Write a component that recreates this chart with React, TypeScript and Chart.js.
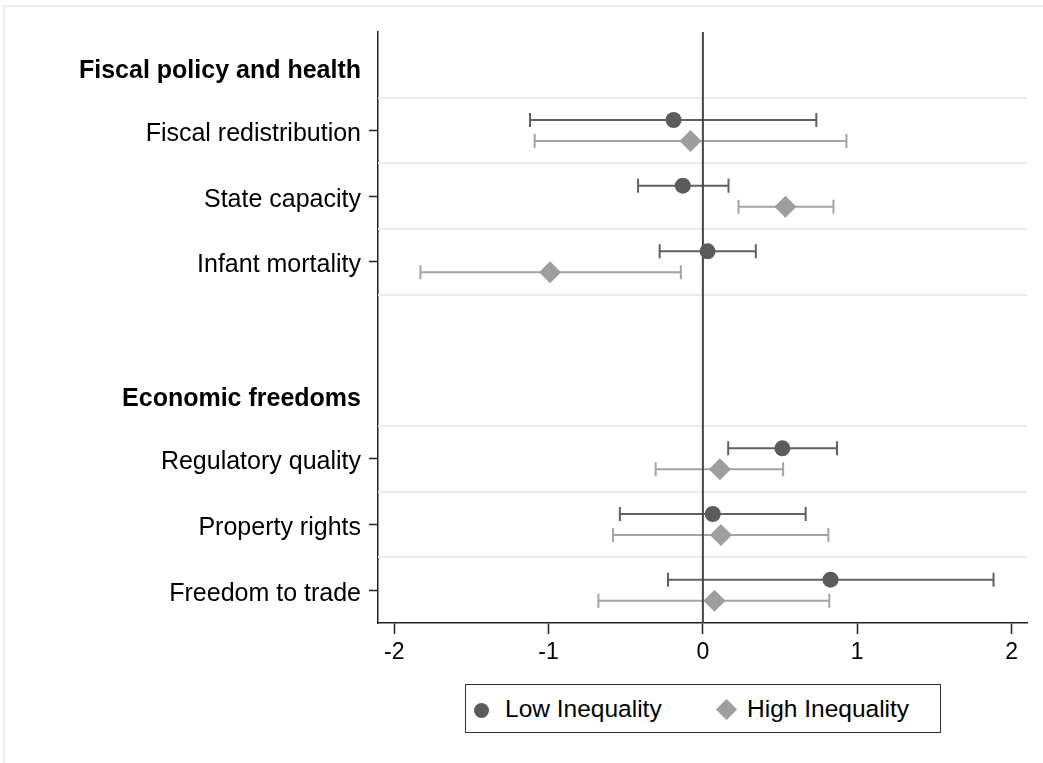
import React, { useEffect, useRef } from "react";
import { Chart, registerables } from "chart.js";

Chart.register(...registerables);

// ---- Data ----
const rowLabels = [
  "Fiscal policy and health",
  "Fiscal redistribution",
  "State capacity",
  "Infant mortality",
  "",
  "Economic freedoms",
  "Regulatory quality",
  "Property rights",
  "Freedom to trade",
];
const headerRows = [0, 5];
const itemRows = [1, 2, 3, 6, 7, 8];
const separatorRows = [0.5, 1.5, 2.5, 3.5, 5.5, 6.5, 7.5];

const lowEst = [-0.19, -0.13, 0.03, 0.515, 0.064, 0.827];
const lowLo = [-1.12, -0.42, -0.28, 0.164, -0.538, -0.226];
const lowHi = [0.735, 0.166, 0.343, 0.869, 0.666, 1.883];

const highEst = [-0.08, 0.535, -0.99, 0.11, 0.117, 0.075];
const highLo = [-1.09, 0.231, -1.83, -0.306, -0.582, -0.677];
const highHi = [0.93, 0.846, -0.143, 0.52, 0.813, 0.819];

const xTicks = [-2, -1, 0, 1, 2];

const FONT = "'Liberation Sans', Arial, Helvetica, sans-serif";
const LOW_COLOR = "#5b5b5b";
const HIGH_COLOR = "#9e9e9e";

const errorBarPlugin = {
  id: "errorBars",
  beforeDatasetsDraw(chart: any) {
    const { ctx, chartArea, scales } = chart;
    const xs = scales.x;
    const ys = scales.y;
    ctx.save();
    // separators
    ctx.strokeStyle = "#ebebeb";
    ctx.lineWidth = 2;
    separatorRows.forEach((r) => {
      const y = Math.round(ys.getPixelForValue(r));
      ctx.beginPath();
      ctx.moveTo(chartArea.left, y);
      ctx.lineTo(chartArea.right, y);
      ctx.stroke();
    });
    // error bars
    chart.data.datasets.forEach((ds: any) => {
      ctx.strokeStyle = ds.errorColor;
      ctx.lineWidth = 2;
      ds.data.forEach((d: any) => {
        const y = ys.getPixelForValue(d.y);
        const x1 = xs.getPixelForValue(d.lo);
        const x2 = xs.getPixelForValue(d.hi);
        ctx.beginPath();
        ctx.moveTo(x1, y);
        ctx.lineTo(x2, y);
        ctx.moveTo(x1, y - 7);
        ctx.lineTo(x1, y + 7);
        ctx.moveTo(x2, y - 7);
        ctx.lineTo(x2, y + 7);
        ctx.stroke();
      });
    });
    // zero line
    const x0 = xs.getPixelForValue(0);
    ctx.strokeStyle = "#444444";
    ctx.lineWidth = 2;
    ctx.beginPath();
    ctx.moveTo(x0, chartArea.top);
    ctx.lineTo(x0, chartArea.bottom);
    ctx.stroke();
    ctx.restore();
  },
};

export default function App() {
  const ref = useRef<HTMLCanvasElement>(null);

  useEffect(() => {
    document.body.style.margin = "0";
    const canvas = ref.current;
    if (!canvas) return;
    const chart = new Chart(canvas, {
      type: "scatter",
      data: {
        datasets: [
          {
            label: "Low Inequality",
            data: itemRows.map((r, i) => ({ x: lowEst[i], y: r - 0.16, lo: lowLo[i], hi: lowHi[i] })),
            backgroundColor: LOW_COLOR,
            borderColor: LOW_COLOR,
            pointStyle: "circle",
            pointRadius: 8,
            pointBorderWidth: 0,
            errorColor: "#606060",
          } as any,
          {
            label: "High Inequality",
            data: itemRows.map((r, i) => ({ x: highEst[i], y: r + 0.16, lo: highLo[i], hi: highHi[i] })),
            backgroundColor: HIGH_COLOR,
            borderColor: HIGH_COLOR,
            pointStyle: "rectRot",
            pointRadius: 11,
            pointBorderWidth: 0,
            errorColor: "#a4a4a4",
          } as any,
        ],
      },
      options: {
        responsive: false,
        animation: false,
        layout: { padding: { left: 0, top: 32, right: 16, bottom: 90 } },
        plugins: {
          legend: { display: false },
          tooltip: { enabled: false },
        },
        scales: {
          x: {
            type: "linear",
            min: -2.105,
            max: 2.1,
            afterBuildTicks: (scale: any) => {
              scale.ticks = xTicks.map((v) => ({ value: v }));
            },
            afterFit: (scale: any) => {
              scale.height = 50;
            },
            ticks: {
              color: "#000",
              font: { family: FONT, size: 23 },
              padding: 5,
              maxRotation: 0,
            },
            grid: {
              drawOnChartArea: false,
              drawTicks: true,
              tickLength: 11,
              tickColor: "#222",
              tickWidth: 1.5,
            },
            border: { display: true, color: "#222", width: 1.5 },
          },
          y: {
            type: "linear",
            reverse: true,
            min: -0.5,
            max: 8.5,
            afterBuildTicks: (scale: any) => {
              scale.ticks = rowLabels.map((_, i) => ({
                value: headerRows.includes(i) ? i + 0.04 : i,
              }));
            },
            afterFit: (scale: any) => {
              scale.width = 378;
            },
            ticks: {
              color: "#000",
              padding: 8,
              autoSkip: false,
              labelOffset: 3.5,
              callback: (_v: any, index: number) => rowLabels[index] ?? "",
              font: (ctx: any) => ({
                family: FONT,
                size: 25,
                weight: headerRows.includes(ctx.index) ? "bold" : "normal",
              }),
            },
            grid: {
              drawOnChartArea: false,
              drawTicks: true,
              tickLength: 9,
              tickWidth: 1.5,
              tickColor: (ctx: any) =>
                itemRows.includes(ctx.index) ? "#222" : "rgba(0,0,0,0)",
            },
            border: { display: true, color: "#222", width: 1.5 },
          },
        },
      } as any,
      plugins: [errorBarPlugin],
    });
    return () => chart.destroy();
  }, []);

  const textStyle: React.CSSProperties = {
    position: "absolute",
    fontFamily: FONT,
    fontSize: 24.5,
    color: "#000",
    lineHeight: "28px",
    top: 10,
    whiteSpace: "nowrap",
  };

  return (
    <div style={{ position: "relative", width: 1043, height: 763, background: "#fff", overflow: "hidden" }}>
      <div
        style={{
          position: "absolute",
          left: 3,
          top: 5,
          right: 0,
          bottom: 0,
          borderTop: "2px solid #ececec",
          borderLeft: "2px solid #ececec",
        }}
      />
      <canvas ref={ref} width={1043} height={763} style={{ position: "absolute", left: 0, top: 0 }} />
      <div
        style={{
          position: "absolute",
          left: 465,
          top: 684,
          width: 476,
          height: 49,
          boxSizing: "border-box",
          border: "1.5px solid #333",
          background: "#fff",
        }}
      >
        <div
          style={{
            position: "absolute",
            left: 8,
            top: 17.5,
            width: 15,
            height: 15,
            borderRadius: "50%",
            background: LOW_COLOR,
          }}
        />
        <span style={{ ...textStyle, left: 39 }}>Low Inequality</span>
        <div
          style={{
            position: "absolute",
            left: 252.5,
            top: 17,
            width: 15,
            height: 15,
            transform: "rotate(45deg)",
            background: HIGH_COLOR,
          }}
        />
        <span style={{ ...textStyle, left: 281 }}>High Inequality</span>
      </div>
    </div>
  );
}
